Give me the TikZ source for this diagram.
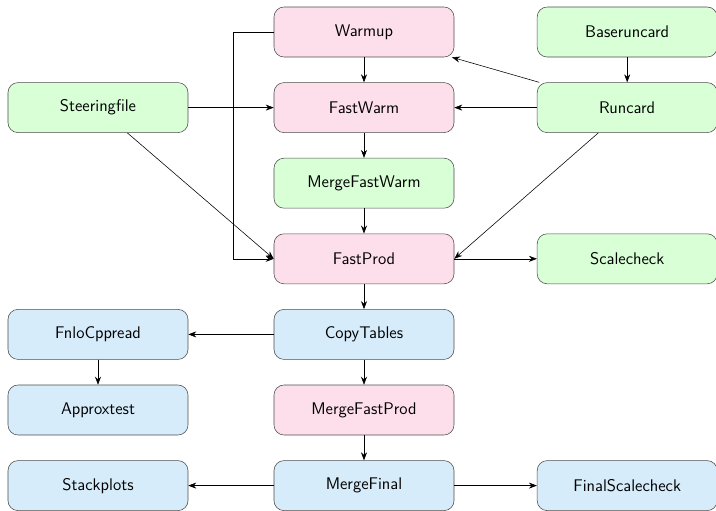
\documentclass[tikz,border=0pt]{standalone}
\usepackage{tikz}
\usetikzlibrary{arrows.meta,positioning}
\definecolor{jobpink}{RGB}{253,223,236}
\definecolor{cfggreen}{RGB}{217,255,215}
\definecolor{outblue}{RGB}{214,236,250}

\begin{document}
\begin{tikzpicture}[
  font=\sffamily\large,
  box/.style={rectangle, rounded corners=2.5mm, draw=black!70, minimum width=4.5cm, minimum height=1.25cm, align=center, inner sep=1pt},
  gridjob/.style={box, fill=jobpink},
  cfgjob/.style={box, fill=cfggreen},
  outjob/.style={box, fill=outblue},
  >={Stealth[length=2mm, width=1.5mm]}
]
\useasboundingbox (-9.1,0.8) rectangle (8.8,-11.95);
\node[gridjob] (warmup) at (0,0) {Warmup};
\node[gridjob] (fastwarm) at (0,-1.89) {FastWarm};
\node[cfgjob] (mergewarm) at (0,-3.78) {MergeFastWarm};
\node[gridjob] (fastprod) at (0,-5.67) {FastProd};
\node[outjob] (copytab) at (0,-7.56) {CopyTables};
\node[gridjob] (mergeprod) at (0,-9.45) {MergeFastProd};
\node[outjob] (mergefinal) at (0,-11.34) {MergeFinal};
\node[cfgjob] (steering) at (-6.65,-1.89) {Steeringfile};
\node[outjob] (cppread) at (-6.65,-7.56) {FnloCppread};
\node[outjob] (approx) at (-6.65,-9.45) {Approxtest};
\node[outjob] (stack) at (-6.65,-11.34) {Stackplots};
\node[cfgjob] (baserun) at (6.58,0) {Baseruncard};
\node[cfgjob] (runcard) at (6.58,-1.89) {Runcard};
\node[cfgjob] (scalecheck) at (6.58,-5.67) {Scalecheck};
\node[outjob] (finalscale) at (6.58,-11.34) {FinalScalecheck};
% main chain
\draw[->] (warmup) -- (fastwarm);
\draw[->] (fastwarm) -- (mergewarm);
\draw[->] (mergewarm) -- (fastprod);
\draw[->] (fastprod) -- (copytab);
\draw[->] (copytab) -- (mergeprod);
\draw[->] (mergeprod) -- (mergefinal);
% inputs
\draw[->] (baserun) -- (runcard);
\draw[->] (runcard) -- (warmup);
\draw[->] (runcard) -- (fastwarm);
\draw[->] (runcard) -- (fastprod.east);
\draw[->] (steering) -- (fastwarm);
\draw[->] (steering) -- (fastprod.west);
\draw[->] (warmup.west) -- ++(-1,0) |- (fastprod.west);
% outputs
\draw[->] (fastprod) -- (scalecheck);
\draw[->] (copytab) -- (cppread);
\draw[->] (cppread) -- (approx);
\draw[->] (mergefinal) -- (stack);
\draw[->] (mergefinal) -- (finalscale);
\end{tikzpicture}
\end{document}
